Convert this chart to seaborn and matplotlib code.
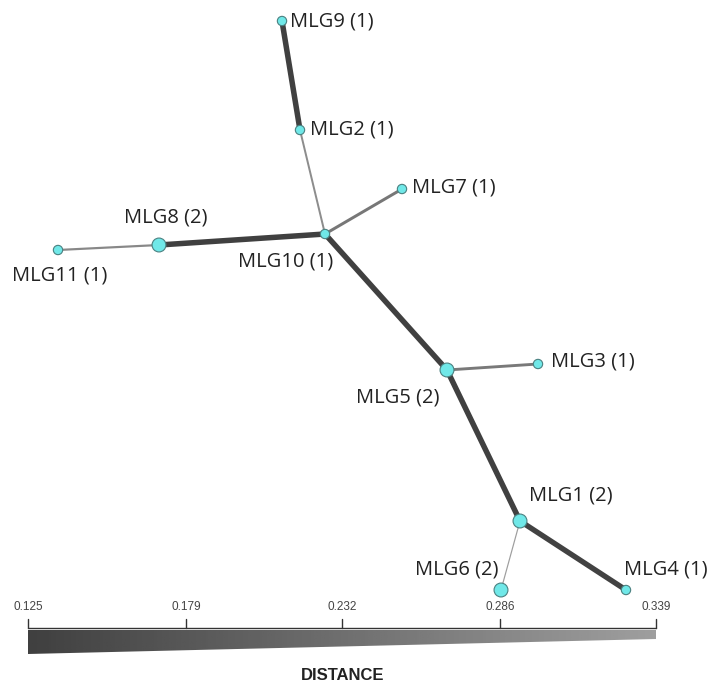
import numpy as np
import pandas as pd
import matplotlib
matplotlib.use("Agg")
import matplotlib.pyplot as plt
from matplotlib.patches import Polygon
import seaborn as sns

# ---- data ----
nodes = ["MLG9", "MLG2", "MLG7", "MLG10", "MLG8", "MLG11", "MLG5", "MLG3", "MLG1", "MLG6", "MLG4"]
counts = [1, 1, 1, 1, 2, 1, 2, 1, 2, 2, 1]
node_x = [282, 300, 402, 325, 159, 58, 447, 538, 520, 501, 626]
node_y = [21, 130, 189, 234, 245, 250, 370, 364, 521, 590, 590]

edge_from = ["MLG9", "MLG2", "MLG7", "MLG10", "MLG8", "MLG10", "MLG5", "MLG5", "MLG1", "MLG1"]
edge_to = ["MLG2", "MLG10", "MLG10", "MLG8", "MLG11", "MLG5", "MLG3", "MLG1", "MLG4", "MLG6"]
edge_dist = [0.125, 0.300, 0.250, 0.125, 0.290, 0.125, 0.255, 0.125, 0.130, 0.339]

scale_ticks = [0.125, 0.179, 0.232, 0.286, 0.339]
scale_labels = ["0.125", "0.179", "0.232", "0.286", "0.339"]

# label placement (offsets relative to node, in pixels)
label_dx = [8, 10, 10, -87, -35, -46, -91, 13, 9, -86, -2]
label_dy = [0, 0, -2, 28, -28, 25, 27, -2, -25, -21, -21]

# ---- figure ----
sns.set_style("white")
fig = plt.figure(figsize=(7.11, 6.84), dpi=100)
ax = fig.add_axes([0, 0, 1, 1])

dmin, dmax = scale_ticks[0], scale_ticks[-1]
xs0, xs1 = 28, 656

def dcolor(d):
    t = (d - dmin) / (dmax - dmin)
    v = 0.25 + t * (0.62 - 0.25)
    return (v, v, v)

def dwidth(d):
    t = (d - dmin) / (dmax - dmin)
    return (5.5 - t * 4.3) * 0.72

pos = {n: (x, y) for n, x, y in zip(nodes, node_x, node_y)}
for a, b, d in zip(edge_from, edge_to, edge_dist):
    (x1, y1), (x2, y2) = pos[a], pos[b]
    ax.plot([x1, x2], [y1, y2], color=dcolor(d), lw=dwidth(d), solid_capstyle="butt", zorder=1)

df = pd.DataFrame({"node": nodes, "x": node_x, "y": node_y, "count": counts})
sns.scatterplot(data=df, x="x", y="y", size="count", sizes={1: 45, 2: 100},
                color="#70E8E8", edgecolor="#4a8080", linewidth=0.8, legend=False,
                ax=ax, zorder=3)

for n, c, x, y, dx, dy in zip(nodes, counts, node_x, node_y, label_dx, label_dy):
    ax.text(x + dx, y + dy, f"{n} ({c})", fontsize=14.5, family="Open Sans",
            color="#222222", ha="left", va="center", zorder=4)

# ---- distance scale ----
def dx_of(d):
    return xs0 + (d - dmin) / (dmax - dmin) * (xs1 - xs0)

ax.plot([xs0, xs1], [628, 628], color="#333333", lw=1.0)
for t, lab in zip(scale_ticks, scale_labels):
    x = dx_of(t)
    ax.plot([x, x], [619, 628], color="#333333", lw=1.0)
    ax.text(x, 607, lab, fontsize=8.5, color="#444444", ha="center", va="center",
            family="Liberation Sans")

grad = np.linspace(0.25, 0.62, 256)[None, :]
img = ax.imshow(grad, cmap="gray", vmin=0, vmax=1, aspect="auto",
                extent=[xs0, xs1, 654, 630], zorder=1)
wedge = Polygon([[xs0, 630], [xs1, 630], [xs1, 639], [xs0, 654]], closed=True,
                transform=ax.transData, facecolor="none", edgecolor="none")
ax.add_patch(wedge)
img.set_clip_path(wedge)

ax.text(343, 675, "DISTANCE", fontsize=12, fontweight="bold", ha="center",
        va="center", color="#222222", family="Liberation Sans")

ax.set_xlim(0, 711)
ax.set_ylim(684, 0)
ax.axis("off")

fig.savefig("out.png", dpi=100, facecolor="white")
